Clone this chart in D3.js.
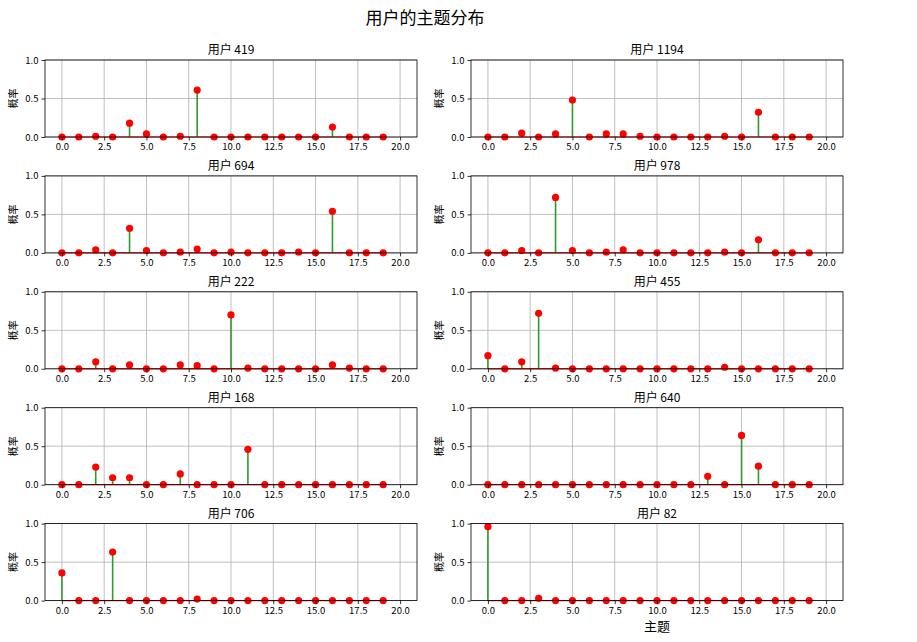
<!DOCTYPE html>
<html>
<head>
<meta charset="utf-8">
<script src="https://cdn.jsdelivr.net/npm/d3@7"></script>
<style>
  body { margin: 0; background: #fff; }
  text { font-family: "Noto Sans CJK SC", "DejaVu Sans", sans-serif; fill: #000; }
</style>
</head>
<body>
<svg id="chart" width="917" height="642"></svg>
<script>
// user ids, one panel each (row by row, left then right)
const users = [419, 1194, 694, 978, 222, 455, 168, 640, 706, 82];
const topics = d3.range(20);

// topic probability per user, topics 0..19
const user419  = [0, 0, 0.01, 0, 0.18, 0.04, 0, 0.01, 0.61, 0, 0, 0, 0, 0, 0, 0, 0.13, 0, 0, 0];
const user1194 = [0, 0, 0.05, 0, 0.04, 0.48, 0, 0.04, 0.04, 0.01, 0, 0, 0, 0, 0.01, 0, 0.32, 0, 0, 0];
const user694  = [0, 0, 0.04, 0, 0.32, 0.03, 0, 0.01, 0.05, 0, 0.01, 0, 0, 0, 0.01, 0, 0.54, 0, 0, 0];
const user978  = [0, 0, 0.03, 0, 0.72, 0.03, 0, 0.01, 0.04, 0, 0, 0, 0, 0, 0.01, 0, 0.17, 0, 0, 0];
const user222  = [0, 0, 0.09, 0, 0.05, 0, 0, 0.05, 0.04, 0, 0.70, 0.01, 0, 0, 0, 0, 0.05, 0.01, 0, 0];
const user455  = [0.17, 0, 0.09, 0.72, 0.01, 0, 0, 0, 0, 0, 0, 0, 0, 0, 0.02, 0, 0, 0, 0, 0];
const user168  = [0, 0, 0.23, 0.09, 0.09, 0, 0, 0.14, 0, 0, 0, 0.46, 0, 0, 0, 0, 0, 0, 0, 0];
const user640  = [0, 0, 0, 0, 0, 0, 0, 0, 0, 0, 0, 0, 0, 0.11, 0, 0.64, 0.24, 0, 0, 0];
const user706  = [0.36, 0, 0, 0.63, 0, 0, 0, 0, 0.02, 0, 0, 0, 0, 0, 0, 0, 0, 0, 0, 0];
const user82   = [0.96, 0, 0, 0.03, 0, 0, 0, 0, 0, 0, 0, 0, 0, 0, 0, 0, 0, 0, 0, 0];
const probs = [user419, user1194, user694, user978, user222, user455, user168, user640, user706, user82];

const xTicks = [0, 2.5, 5, 7.5, 10, 12.5, 15, 17.5, 20];
const yTicks = [0, 0.5, 1];

const svg = d3.select("#chart");

svg.append("text")
  .attr("x", 425).attr("y", 24)
  .attr("text-anchor", "middle")
  .attr("font-size", 17)
  .text("用户的主题分布");

const colX = [45, 471];
const axW = 372, axH = 77;
const rowTop = r => 60 + r * 115.9;

users.forEach((u, i) => {
  const col = i % 2, row = Math.floor(i / 2);
  const g = svg.append("g").attr("transform", `translate(${colX[col]},${rowTop(row)})`);
  const x = d3.scaleLinear().domain([-1, 21]).range([0, axW]);
  const y = d3.scaleLinear().domain([0, 1]).range([axH, 0]);

  // grid
  g.append("g").selectAll("line").data(xTicks).join("line")
    .attr("x1", d => x(d)).attr("x2", d => x(d))
    .attr("y1", 0).attr("y2", axH)
    .attr("stroke", "#b0b0b0").attr("stroke-width", 0.8);
  g.append("g").selectAll("line").data(yTicks).join("line")
    .attr("x1", 0).attr("x2", axW)
    .attr("y1", d => y(d)).attr("y2", d => y(d))
    .attr("stroke", "#b0b0b0").attr("stroke-width", 0.8);

  const data = probs[i];

  // stems
  g.append("g").selectAll("line").data(topics).join("line")
    .attr("x1", d => x(d)).attr("x2", d => x(d))
    .attr("y1", y(0)).attr("y2", d => y(data[d]))
    .attr("stroke", "#2e9a2e").attr("stroke-width", 1.6);

  // baseline
  g.append("line")
    .attr("x1", x(0)).attr("x2", x(19))
    .attr("y1", y(0)).attr("y2", y(0))
    .attr("stroke", "#ff2020").attr("stroke-width", 1.2);

  // markers
  g.append("g").selectAll("circle").data(topics).join("circle")
    .attr("cx", d => x(d)).attr("cy", d => y(data[d]))
    .attr("r", 3.6).attr("fill", "#ff0000");

  // axes
  const xAxis = g.append("g").attr("transform", `translate(0,${axH})`)
    .call(d3.axisBottom(x).tickValues(xTicks).tickFormat(d3.format(".1f")).tickSize(3.5).tickPadding(3));
  const yAxis = g.append("g")
    .call(d3.axisLeft(y).tickValues(yTicks).tickFormat(d3.format(".1f")).tickSize(3.5).tickPadding(3));
  [xAxis, yAxis].forEach(a => {
    a.select(".domain").remove();
    a.selectAll("text").attr("font-size", 9.5).attr("font-family", "'Noto Sans CJK SC', sans-serif");
    a.selectAll("line").attr("stroke", "#000").attr("stroke-width", 0.8);
  });

  // frame
  g.append("rect").attr("width", axW).attr("height", axH)
    .attr("fill", "none").attr("stroke", "#000").attr("stroke-width", 0.8);

  g.append("text")
    .attr("x", axW / 2).attr("y", -6)
    .attr("text-anchor", "middle")
    .attr("font-size", 12)
    .text("用户 " + u);

  g.append("text")
    .attr("transform", `translate(-28,${axH / 2}) rotate(-90)`)
    .attr("text-anchor", "middle")
    .attr("font-size", 10)
    .text("概率");

  if (i === users.length - 1) {
    g.append("text")
      .attr("x", axW / 2).attr("y", axH + 30)
      .attr("text-anchor", "middle")
      .attr("font-size", 13)
      .text("主题");
  }
});
</script>
</body>
</html>
